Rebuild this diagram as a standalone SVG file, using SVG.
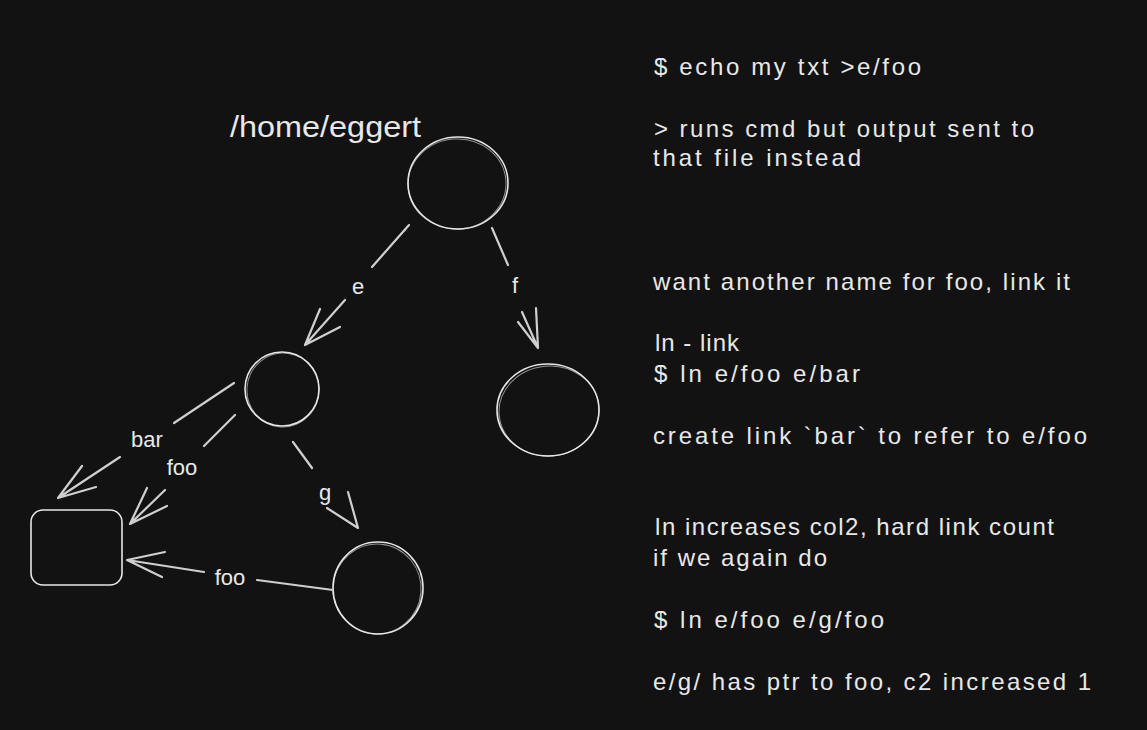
<svg xmlns="http://www.w3.org/2000/svg" width="1147" height="730" viewBox="0 0 1147 730">
<style>
.bg{fill:#121212}
.shape{fill:none;stroke:#e6e6e6;stroke-width:1.6;stroke-linecap:round}
.shape2{fill:none;stroke:#e6e6e6;stroke-width:1;opacity:0.6}
.conn{fill:none;stroke:#cfcfcf;stroke-width:2.2;stroke-linecap:round;stroke-linejoin:round}
.lbl{font-family:"Liberation Sans",Arial,sans-serif;font-size:22px;fill:#e8e8e8;text-anchor:middle}
.note{font-family:"Liberation Sans",Arial,sans-serif;font-size:24px;fill:#e8e8e8}
.title{font-family:"Liberation Sans",Arial,sans-serif;font-size:29px;fill:#e8e8e8}
</style>
<rect class="bg" x="0" y="0" width="1147" height="730"/>

<g id="node-home">
<ellipse class="shape" cx="458" cy="183" rx="50" ry="46"/>
<ellipse class="shape2" cx="457" cy="184" rx="49" ry="45" transform="rotate(-4 457 184)"/>
<text class="title" x="230" y="137" textLength="191" lengthAdjust="spacingAndGlyphs">/home/eggert</text>
</g>
<g id="node-e">
<ellipse class="shape" cx="282" cy="389" rx="37" ry="37"/>
<ellipse class="shape2" cx="283" cy="390" rx="36" ry="37" transform="rotate(6 283 390)"/>
</g>
<g id="node-f">
<ellipse class="shape" cx="548" cy="410" rx="51" ry="46"/>
<ellipse class="shape2" cx="549" cy="411" rx="50" ry="45" transform="rotate(-5 549 411)"/>
</g>
<g id="node-g">
<ellipse class="shape" cx="378" cy="588" rx="45" ry="46"/>
<ellipse class="shape2" cx="377" cy="589" rx="44" ry="45" transform="rotate(5 377 589)"/>
</g>
<g id="node-file">
<rect class="shape" x="31" y="510" width="91" height="75" rx="12"/>
</g>

<g id="connectors">
<!-- home -> e -->
<path class="conn" d="M409 225 L372 267 M345 300 L305 345 M340 327 L305 345 L320 309"/>
<text class="lbl" x="358" y="294">e</text>
<!-- home -> f -->
<path class="conn" d="M492 228 L508 265 M522 312 L538 348 M518 322 L538 348 L536 308"/>
<text class="lbl" x="515" y="293">f</text>
<!-- e -> file (bar) -->
<path class="conn" d="M234 383 L174 423 M120 457 L58 498 M82 466 L58 498 L96 487"/>
<text class="lbl" x="147" y="447">bar</text>
<!-- e -> file (foo) -->
<path class="conn" d="M235 415 L204 446 M165 490 L130 524 M147 488 L130 524 L167 506"/>
<text class="lbl" x="182" y="475">foo</text>
<!-- e -> g -->
<path class="conn" d="M293 442 L312 468 M348 492 L358 528 L327 508"/>
<text class="lbl" x="325" y="500">g</text>
<!-- g -> file (foo) -->
<path class="conn" d="M333 590 L257 580 M204 572 L127 560 M165 552 L127 560 L162 577"/>
<text class="lbl" x="230" y="585">foo</text>
</g>

<g id="notes">
<text class="note" x="654" y="75" textLength="267" lengthAdjust="spacing">$ echo my txt &gt;e/foo</text>
<text class="note" x="654" y="137" textLength="380" lengthAdjust="spacing">&gt; runs cmd but output sent to</text>
<text class="note" x="653" y="166" textLength="208" lengthAdjust="spacing">that file instead</text>
<text class="note" x="653" y="290" textLength="417" lengthAdjust="spacing">want another name for foo, link it</text>
<text class="note" x="655" y="351" textLength="84" lengthAdjust="spacing">ln - link</text>
<text class="note" x="654" y="382" textLength="206" lengthAdjust="spacing">$ ln e/foo e/bar</text>
<text class="note" x="653" y="444" textLength="434" lengthAdjust="spacing">create link `bar` to refer to e/foo</text>
<text class="note" x="655" y="535" textLength="399" lengthAdjust="spacing">ln increases col2, hard link count</text>
<text class="note" x="653" y="566" textLength="174" lengthAdjust="spacing">if we again do</text>
<text class="note" x="654" y="628" textLength="230" lengthAdjust="spacing">$ ln e/foo e/g/foo</text>
<text class="note" x="653" y="690" textLength="438" lengthAdjust="spacing">e/g/ has ptr to foo, c2 increased 1</text>
</g>
</svg>
